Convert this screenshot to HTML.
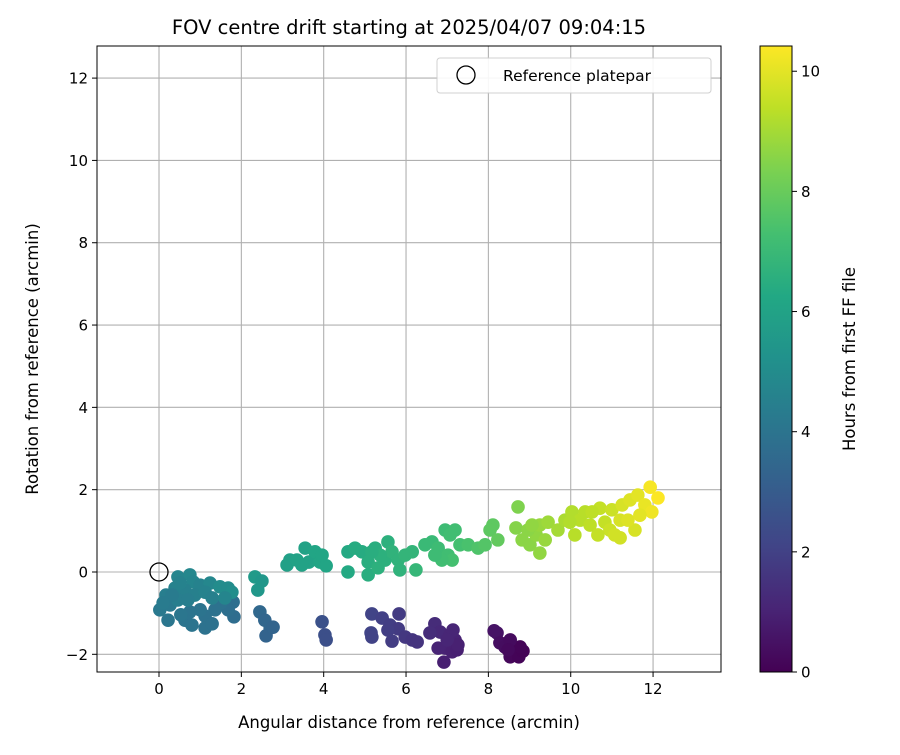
<!DOCTYPE html>
<html><head><meta charset="utf-8"><style>
body{margin:0;background:#fff;}
svg text{font-family:"DejaVu Sans","Liberation Sans",sans-serif;fill:#000;}
</style></head><body>
<svg id="chart" width="900" height="750" xmlns="http://www.w3.org/2000/svg">
<rect width="900" height="750" fill="#fff"/>
<defs>
<linearGradient id="vir" x1="0" y1="1" x2="0" y2="0">
<stop offset="0" stop-color="#440154"/><stop offset="0.1" stop-color="#482475"/><stop offset="0.2" stop-color="#414487"/><stop offset="0.3" stop-color="#355f8d"/><stop offset="0.4" stop-color="#2a788e"/><stop offset="0.5" stop-color="#21918c"/><stop offset="0.6" stop-color="#22a884"/><stop offset="0.7" stop-color="#44bf70"/><stop offset="0.8" stop-color="#7ad151"/><stop offset="0.9" stop-color="#bddf26"/><stop offset="1" stop-color="#fde725"/>
</linearGradient>
<clipPath id="clip"><rect x="97" y="46" width="624" height="626"/></clipPath>
</defs>
<g id="grid"></g>
<g id="points" clip-path="url(#clip)"></g>
<rect x="97" y="46" width="624" height="626" fill="none" stroke="#000" stroke-width="1"/>
<g id="ticks"></g>
<text x="409" y="34" font-size="19.5" text-anchor="middle">FOV centre drift starting at 2025/04/07 09:04:15</text>
<text x="409" y="728" font-size="16.5" text-anchor="middle">Angular distance from reference (arcmin)</text>
<text transform="translate(38,359) rotate(-90)" font-size="16.5" text-anchor="middle">Rotation from reference (arcmin)</text>
<g>
<rect x="437" y="58" width="274" height="35" rx="3" fill="#fff" stroke="#ccc" stroke-width="1" opacity="0.9"/>
<circle cx="466" cy="75" r="9" fill="none" stroke="#000" stroke-width="1.3"/>
<text x="503" y="81" font-size="15.5">Reference platepar</text>
</g>
<rect x="760" y="46" width="32" height="626" fill="url(#vir)" stroke="#000" stroke-width="1"/>
<g id="cbticks"></g>
<text transform="translate(855,359) rotate(-90)" font-size="16.5" text-anchor="middle">Hours from first FF file</text>
</svg>
<script>
const xTicks=[0,2,4,6,8,10,12];
const yTicks=[-2,0,2,4,6,8,10,12];
const cbTicks=[0,2,4,6,8,10];
const xs=[8.21,8.28,8.40,8.53,8.60,8.74,8.84,8.77,8.53,8.48,8.14,
6.70,6.83,7.07,7.19,6.95,7.12,6.78,6.92,6.58,7.24,7.14,7.26,7.00,
5.17,5.42,5.61,5.81,5.98,6.15,6.27,5.15,5.17,5.66,5.83,5.56,
3.96,4.03,4.06,
2.45,2.57,2.70,2.60,2.77,
1.80,1.82,1.68,1.51,1.36,1.12,1.00,0.75,0.63,0.53,0.22,1.12,0.80,1.29,0.02,0.27,
0.17,0.39,0.46,0.75,0.83,1.00,1.24,1.48,1.68,1.77,0.63,0.46,0.87,1.12,1.29,0.51,0.32,0.10,0.70,1.60,
2.33,2.50,2.40,
3.11,3.18,3.35,3.55,3.64,3.79,3.91,4.06,3.96,3.47,
4.59,4.59,4.76,4.93,5.08,5.08,5.25,5.32,5.49,5.56,5.66,5.81,5.85,5.98,6.15,6.24,5.37,5.17,
6.63,6.78,6.95,7.07,7.19,7.02,7.12,6.87,7.31,7.51,7.75,7.92,6.46,6.70,
8.11,8.04,8.23,
8.72,8.67,8.82,9.01,9.16,9.25,9.45,9.25,8.96,9.38,9.06,
9.69,9.86,10.03,10.23,10.35,10.47,10.71,10.83,11.00,10.95,10.66,10.10,9.98,10.52,
11.20,11.25,11.44,11.63,11.80,11.97,11.93,12.12,11.56,11.07,11.39,11.68,11.20];
const ys=[-1.48,-1.72,-1.82,-2.06,-2.02,-2.06,-1.92,-1.82,-1.65,-1.89,-1.43,
-1.26,-1.46,-1.53,-1.65,-1.85,-1.94,-1.85,-2.19,-1.48,-1.89,-1.41,-1.77,-1.65,
-1.02,-1.12,-1.29,-1.38,-1.58,-1.65,-1.70,-1.48,-1.58,-1.68,-1.02,-1.41,
-1.21,-1.53,-1.65,
-0.97,-1.17,-1.36,-1.55,-1.34,
-0.73,-1.09,-0.92,-0.75,-0.92,-1.07,-0.92,-0.97,-1.17,-1.04,-1.17,-1.36,-1.29,-1.26,-0.92,-0.80,
-0.56,-0.39,-0.12,-0.07,-0.24,-0.32,-0.27,-0.36,-0.39,-0.49,-0.44,-0.68,-0.56,-0.49,-0.63,-0.27,-0.56,-0.75,-0.68,-0.63,
-0.12,-0.22,-0.44,
0.17,0.29,0.29,0.58,0.24,0.49,0.24,0.15,0.41,0.17,
0.49,0.00,0.58,0.49,0.24,-0.07,0.58,0.10,0.29,0.73,0.49,0.29,0.05,0.41,0.49,0.05,0.41,0.49,
0.73,0.58,1.02,0.90,1.02,0.41,0.29,0.29,0.66,0.66,0.58,0.66,0.66,0.41,
1.14,1.02,0.78,
1.58,1.07,0.78,0.66,0.90,1.14,1.21,0.46,1.02,0.78,1.14,
1.02,1.26,1.46,1.26,1.46,1.14,1.55,1.21,1.51,1.02,0.90,0.90,1.21,1.46,
1.26,1.63,1.75,1.87,1.63,1.46,2.06,1.80,1.02,0.90,1.26,1.38,0.83];
const hours=[0.5,0.4,0.35,0.2,0.15,0.1,0.05,0.1,0.3,0.25,0.55,
1.3,1.2,1.1,1.0,1.0,0.95,1.05,0.9,1.35,0.9,1.1,0.95,1.1,
2.1,2.0,1.9,1.8,1.7,1.6,1.55,2.1,2.05,1.85,1.8,1.9,
2.6,2.5,2.5,
3.5,3.4,3.4,3.3,3.35,
3.8,3.7,3.8,3.9,3.9,3.9,4.0,4.0,4.0,4.1,4.1,3.9,4.0,3.9,4.2,4.2,
4.4,4.6,4.7,4.8,4.7,4.6,4.8,5.0,5.0,5.1,4.5,4.4,4.5,4.6,4.5,4.6,4.3,4.3,4.4,4.7,
5.6,5.5,5.5,
5.9,5.9,6.0,6.0,6.0,6.1,6.1,6.1,6.1,6.0,
6.3,6.3,6.4,6.4,6.5,6.5,6.5,6.6,6.6,6.6,6.7,6.7,6.7,6.8,6.8,6.9,6.6,6.5,
7.0,7.1,7.1,7.2,7.2,7.2,7.3,7.2,7.3,7.4,7.5,7.6,7.0,7.1,
7.8,7.8,7.9,
8.4,8.5,8.6,8.6,8.7,8.8,8.9,8.7,8.6,8.8,8.7,
9.0,9.1,9.2,9.3,9.3,9.4,9.5,9.5,9.6,9.6,9.5,9.3,9.2,9.4,
9.8,9.8,9.9,10.0,10.1,10.2,10.3,10.4,9.8,9.7,9.9,10.0,9.7];
const refX=[0], refY=[0];

const X0=-1.506,X1=13.65,Y0=-2.43,Y1=12.78,PL=97,PR=721,PT=46,PB=672;
const sx=v=>PL+(v-X0)/(X1-X0)*(PR-PL);
const sy=v=>PB-(v-Y0)/(Y1-Y0)*(PB-PT);
const CMAX=10.42, cy=v=>672-v/CMAX*626;
const stops=["#440154","#482475","#414487","#355f8d","#2a788e","#21918c","#22a884","#44bf70","#7ad151","#bddf26","#fde725"];
function hex(c){return [1,3,5].map(i=>parseInt(c.substr(i,2),16));}
function viridis(t){t=Math.max(0,Math.min(1,t));const f=t*10,i=Math.min(9,Math.floor(f)),r=f-i;
const a=hex(stops[i]),b=hex(stops[i+1]);return 'rgb('+a.map((v,k)=>Math.round(v+(b[k]-v)*r)).join(',')+')';}
const NS="http://www.w3.org/2000/svg";
function mk(tag,attrs,parent){const e=document.createElementNS(NS,tag);for(const k in attrs)e.setAttribute(k,attrs[k]);parent.appendChild(e);return e;}
const grid=document.getElementById('grid'),ticks=document.getElementById('ticks'),pts=document.getElementById('points'),cbt=document.getElementById('cbticks');
xTicks.forEach(v=>{const x=sx(v);
const g=mk('line',{x1:x,x2:x,y1:PT,y2:PB,stroke:'#b0b0b0','stroke-width':1.1},grid);


mk('line',{x1:x,x2:x,y1:PB,y2:PB+5,stroke:'#000'},ticks);
const t=mk('text',{x:x,y:PB+22,'font-size':15,'text-anchor':'middle'},ticks);t.textContent=v;

});
yTicks.forEach(v=>{const y=sy(v);
const g=mk('line',{x1:PL,x2:PR,y1:y,y2:y,stroke:'#b0b0b0','stroke-width':1.1},grid);


mk('line',{x1:PL-5,x2:PL,y1:y,y2:y,stroke:'#000'},ticks);
const t=mk('text',{x:PL-9,y:y+5.5,'font-size':15,'text-anchor':'end'},ticks);t.textContent=v<0?'\u2212'+Math.abs(v):v;

});
for(let i=0;i<xs.length;i++){
const c=mk('circle',{cx:sx(xs[i]),cy:sy(ys[i]),r:6.8,fill:viridis(hours[i]/CMAX)},pts);

}
refX.forEach((v,i)=>{const c=mk('circle',{cx:sx(v),cy:sy(refY[i]),r:9,fill:'none',stroke:'#000','stroke-width':1.3},pts);

});
cbTicks.forEach(v=>{const y=cy(v);
mk('line',{x1:792,x2:797,y1:y,y2:y,stroke:'#000'},cbt);
const t=mk('text',{x:801,y:y+5.5,'font-size':15},cbt);t.textContent=v;

});
</script>
</body></html>
